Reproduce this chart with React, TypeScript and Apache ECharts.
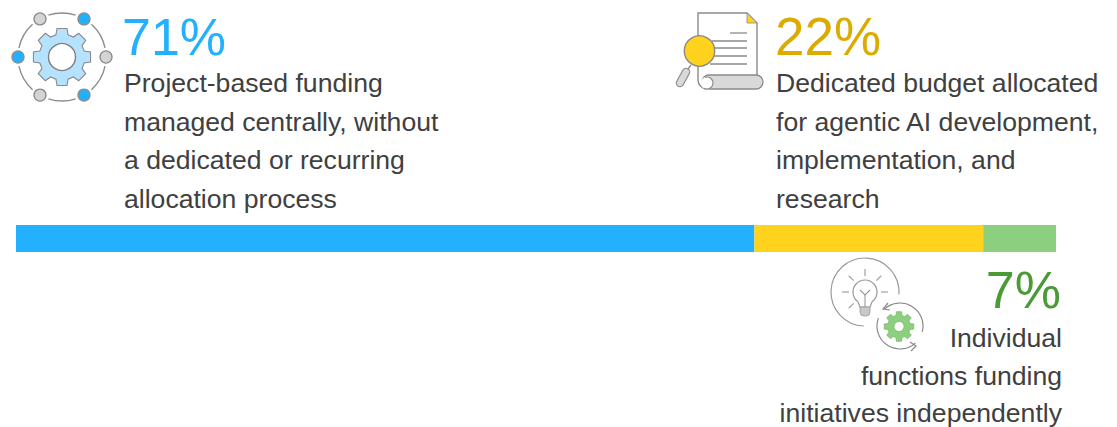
import React, { useEffect, useRef } from "react";
import * as echarts from "echarts";

const segmentNames = ["Project-based funding", "Dedicated budget", "Individual functions"];
const segmentValues = [71, 22, 7];
const segmentColors = ["#22B0FF", "#FFD21E", "#8CCF7E"];

const percentLabels = ["71%", "22%", "7%"];
const percentColors = ["#22B0FF", "#DBAB00", "#4A9A36"];

const projectLines = [
  "Project-based funding",
  "managed centrally, without",
  "a dedicated or recurring",
  "allocation process",
];
const budgetLines = [
  "Dedicated budget allocated",
  "for agentic AI development,",
  "implementation, and",
  "research",
];
const functionLines = ["Individual", "functions funding", "initiatives independently"];

const GREY = "#8A8A8A";
const FONT = '"Liberation Sans", Arial, sans-serif';
const rad = (deg: number) => (deg * Math.PI) / 180;

// Outline of a toothed gear around the origin, used by the two gear icons.
function gearPath(teeth: number, outer: number, root: number) {
  const step = 360 / teeth;
  const pts: string[] = [];
  for (let i = 0; i < teeth; i++) {
    const a = i * step - 90;
    const corners: [number, number][] = [
      [a - step * 0.34, root],
      [a - step * 0.22, outer],
      [a + step * 0.22, outer],
      [a + step * 0.34, root],
    ];
    corners.forEach(([deg, r]) => {
      pts.push(`${(r * Math.cos(rad(deg))).toFixed(2)} ${(r * Math.sin(rad(deg))).toFixed(2)}`);
    });
  }
  return "M" + pts.join("L") + "Z";
}

function arc(cx: number, cy: number, r: number, from: number, to: number, color = GREY, width = 1.4) {
  return {
    type: "arc",
    shape: { cx, cy, r, startAngle: rad(from), endAngle: rad(to), clockwise: true },
    style: { fill: "none", stroke: color, lineWidth: width },
  };
}
function dot(cx: number, cy: number, r: number, fill: string, stroke = GREY, width = 1.4) {
  return { type: "circle", shape: { cx, cy, r }, style: { fill, stroke, lineWidth: width } };
}
function seg(x1: number, y1: number, x2: number, y2: number, stroke = GREY, lineWidth = 1.3) {
  return { type: "line", shape: { x1, y1, x2, y2 }, style: { stroke, lineWidth } };
}
function poly(points: number[][], stroke = GREY, lineWidth = 1.4, fill = "none") {
  return { type: fill === "none" ? "polyline" : "polygon", shape: { points }, style: { stroke, lineWidth, fill } };
}
function label(text: string, x: number, y: number, size: number, color: string, align = "left") {
  return {
    type: "text",
    x,
    y,
    style: { text, fontSize: size, fontFamily: FONT, fill: color, align, verticalAlign: "middle" },
  };
}

// Gear inside an orbit of six small nodes.
function orbitIcon() {
  const cx = 62;
  const cy = 57;
  const orbit = 44;
  const out: any[] = [];
  for (let a = 0; a < 360; a += 60) out.push(arc(cx, cy, orbit, a + 12, a + 48, "#8C8C8C", 1.4));
  const nodeColors = ["#D4D4D4", "#22B0FF", "#D4D4D4", "#22B0FF", "#D4D4D4", "#22B0FF"];
  nodeColors.forEach((c, i) => {
    const a = rad(i * 60);
    out.push(dot(cx + orbit * Math.cos(a), cy + orbit * Math.sin(a), 6, c, "#8C8C8C", 1.3));
  });
  out.push({
    type: "gearOrbit",
    x: cx,
    y: cy,
    style: { fill: "#B5E2FF", stroke: GREY, lineWidth: 1.1 },
  });
  out.push(dot(cx, cy, 13.5, "#FFFFFF", "#808080", 1.4));
  return out;
}

// Document with a rolled foot, looked at through a magnifying glass.
function documentIcon() {
  return [
    { type: "rect", shape: { x: 702, y: 75, width: 61, height: 14, r: 7 }, style: { fill: "#D9D9D9", stroke: GREY, lineWidth: 1.3 } },
    poly([[698, 80], [698, 13], [747, 13], [757, 23], [757, 75]], GREY, 1.4),
    poly([[747, 13], [757, 23], [747, 23]], GREY, 0.8, "#FFD21E"),
    arc(707, 80, 9, 90, 180, GREY, 1.4),
    dot(707, 83, 6, "#FFFFFF", "#FFFFFF", 0.6),
    arc(707, 83, 6, 250, 120, GREY, 1.1),
    seg(730, 33, 747, 33),
    seg(712, 41, 747, 41),
    seg(714, 48, 747, 48),
    seg(714, 56, 747, 56),
    seg(710, 64, 747, 64),
    seg(691, 65, 688, 69),
    { ...poly([[686, 72], [680, 83]]), style: { stroke: GREY, lineWidth: 8.5, fill: "none", lineCap: "round" } },
    { ...poly([[686, 72], [680, 83]]), style: { stroke: "#D9D9D9", lineWidth: 6.2, fill: "none", lineCap: "round" } },
    dot(699.5, 51, 15.2, "#FFD21E", GREY, 1.4),
  ];
}

// Light bulb in a ring, with a small gear inside two arrow arcs.
function bulbIcon() {
  const bx = 865;
  const by = 292;
  const rays = [0, 135, 180, 225, 270, 315].map((deg) => {
    const a = rad(deg);
    return seg(bx + 16 * Math.cos(a), by + 16 * Math.sin(a), bx + 23 * Math.cos(a), by + 23 * Math.sin(a), "#A0A0A0", 1.2);
  });
  return [
    arc(bx, by, 34, 92, 364, "#9A9A9A", 1.2),
    ...rays,
    arc(bx, by, 12, 125, 415, "#9A9A9A", 1.2),
    poly([[858, 302], [860, 307], [870, 307], [872, 302]], "#9A9A9A", 1.2),
    poly([[860, 290], [865, 295], [870, 290]], "#9A9A9A", 1.1),
    seg(865, 295, 865, 307, "#9A9A9A", 1.1),
    { type: "rect", shape: { x: 860, y: 307, width: 10, height: 9, r: [0, 0, 4, 4] }, style: { fill: "#C8C8C8", stroke: "#9A9A9A", lineWidth: 0.8 } },
    arc(900, 326, 23, 228, 375, "#8A8A8A", 1.2),
    arc(900, 326, 23, 48, 200, "#8A8A8A", 1.2),
    poly([[888, 303], [883, 309], [890, 310]], "#8A8A8A", 1.2),
    poly([[910, 342], [916, 346], [911, 351]], "#8A8A8A", 1.2),
    { type: "gearSmall", x: 899, y: 326.5, style: { fill: "#8CCF7E", stroke: "#7DBB70", lineWidth: 0.8 } },
    dot(899, 326.5, 5, "#FFFFFF", "#7DBB70", 0.8),
  ];
}

echarts.graphic.registerShape("gearOrbit", echarts.graphic.extendPath(gearPath(8, 29, 23), {}) as any);
echarts.graphic.registerShape("gearSmall", echarts.graphic.extendPath(gearPath(8, 15, 11.5), {}) as any);

export default function App() {
  const ref = useRef<HTMLDivElement>(null);

  useEffect(() => {
    const chart = echarts.init(ref.current!, null, { renderer: "svg" });
    const ink = "#404040";
    const bodySize = 26.6;
    const lineY = [83, 122, 160, 199];
    const functionY = [338, 376, 412.5];
    chart.setOption({
      animation: false,
      backgroundColor: "#FFFFFF",
      grid: { left: 16, top: 225, width: 1040, height: 27 },
      xAxis: { type: "value", min: 0, max: 100, show: false },
      yAxis: { type: "category", data: ["Funding"], show: false },
      series: segmentNames.map((name, i) => ({
        type: "bar",
        name,
        stack: "funding",
        barWidth: 27,
        data: [segmentValues[i]],
        itemStyle: { color: segmentColors[i] },
      })),
      graphic: [
        ...orbitIcon(),
        ...documentIcon(),
        ...bulbIcon(),
        label(percentLabels[0], 122, 37, 52, percentColors[0]),
        label(percentLabels[1], 775, 36, 53, percentColors[1]),
        label(percentLabels[2], 1061, 290, 52, percentColors[2], "right"),
        ...projectLines.map((t, i) => label(t, 124, lineY[i], bodySize, ink)),
        ...budgetLines.map((t, i) => label(t, 776, lineY[i], bodySize, ink)),
        ...functionLines.map((t, i) => label(t, 1062, functionY[i], bodySize, ink, "right")),
      ],
    });
    return () => chart.dispose();
  }, []);

  return <div ref={ref} style={{ position: "absolute", left: 0, top: 0, width: 1117, height: 427 }} />;
}
